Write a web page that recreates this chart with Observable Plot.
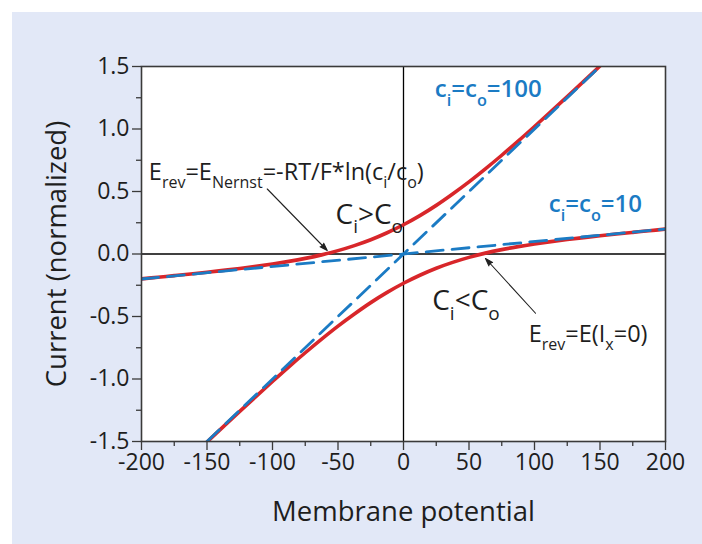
<!DOCTYPE html>
<html>
<head>
<meta charset="utf-8">
<script src="https://cdn.jsdelivr.net/npm/d3@7"></script>
<script src="https://cdn.jsdelivr.net/npm/@observablehq/plot@0.6"></script>
<style>
  html, body { margin: 0; padding: 0; background: #ffffff; }
  #bg { position: absolute; left: 12px; top: 12px; width: 690px; height: 532px; background: #e2e8f7; }
  #chart { position: absolute; left: 0; top: 0; }
</style>
</head>
<body>
<div id="bg"><div id="chart"></div></div>
<script>
// ---- data ----
// red curve, c_i > c_o (c_i = 100, c_o = 10)
const hiV = [-200, -187.5, -175, -162.5, -150, -137.5, -125, -112.5, -100, -87.5, -75, -62.5, -50, -37.5, -25, -12.5, 0, 12.5, 25, 37.5, 50, 62.5, 75, 87.5, 100, 112.5, 125, 137.5, 150];
const hiI = [-0.199, -0.186, -0.173, -0.160, -0.146, -0.131, -0.116, -0.099, -0.080, -0.059, -0.035, -0.007, 0.027, 0.067, 0.114, 0.170, 0.234, 0.307, 0.389, 0.480, 0.577, 0.681, 0.790, 0.903, 1.020, 1.139, 1.259, 1.381, 1.504];
// red curve, c_i < c_o (c_i = 10, c_o = 100)
const loV = [-150, -137.5, -125, -112.5, -100, -87.5, -75, -62.5, -50, -37.5, -25, -12.5, 0, 12.5, 25, 37.5, 50, 62.5, 75, 87.5, 100, 112.5, 125, 137.5, 150, 162.5, 175, 187.5, 200];
const loI = [-1.504, -1.381, -1.259, -1.139, -1.020, -0.903, -0.790, -0.681, -0.577, -0.480, -0.389, -0.307, -0.234, -0.170, -0.114, -0.067, -0.027, 0.007, 0.035, 0.059, 0.080, 0.099, 0.116, 0.131, 0.146, 0.160, 0.173, 0.186, 0.199];
// blue dashed lines, c_i = c_o
const eq100V = [-150, 150];
const eq100I = [-1.5, 1.5];
const eq10V = [-200, 200];
const eq10I = [-0.2, 0.2];

const xTicks = [-200, -150, -100, -50, 0, 50, 100, 150, 200];
const xMinor = [-175, -125, -75, -25, 25, 75, 125, 175];
const yTicks = [-1.5, -1.0, -0.5, 0.0, 0.5, 1.0, 1.5];
const yMinor = [-1.25, -0.75, -0.25, 0.25, 0.75, 1.25];

const xTitle = "Membrane potential";
const yTitle = "Current (normalized)";

const blueText = ["c_{i}=c_{o}=100", "c_{i}=c_{o}=10"];
const blueX = [23.9, 110.9];
const blueY = [1.314, 0.394];

const eqText = ["E_{rev}=E_{Nernst}=-RT/F*ln(c_{i}/c_{o})", "E_{rev}=E(I_{x}=0)"];
const eqX = [-194.4, 95.6];
const eqY = [0.65, -0.64];

const relText = ["C_{i}>C_{o}", "C_{i}<C_{o}"];
const relX = [-51.9, 21.9];
const relY = [0.315, -0.38];

const arrX1 = [-104, 100.8];
const arrY1 = [0.52, -0.474];
const arrX2 = [-58.2, 62.6];
const arrY2 = [0.028, -0.036];

// ---- build tables ----
const hi = hiV.map((v, i) => ({V: v, I: hiI[i]}));
const lo = loV.map((v, i) => ({V: v, I: loI[i]}));
const d100 = eq100V.map((v, i) => ({V: v, I: eq100I[i]}));
const d10 = eq10V.map((v, i) => ({V: v, I: eq10I[i]}));
const blue = blueText.map((t, i) => ({t, x: blueX[i], y: blueY[i]}));
const eqs = eqText.map((t, i) => ({t, x: eqX[i], y: eqY[i]}));
const rels = relText.map((t, i) => ({t, x: relX[i], y: relY[i]}));
const arrows = arrX1.map((x1, i) => ({x1, y1: arrY1[i], x2: arrX2[i], y2: arrY2[i]}));

const RED = "#d8262a";
const BLUE = "#1b7bc4";
const INK = "#1e1e1e";

const plot = Plot.plot({
  width: 690,
  height: 532,
  marginLeft: 129,
  marginRight: 37,
  marginTop: 54,
  marginBottom: 103,
  style: {background: "transparent", fontFamily: "'Open Sans', sans-serif", color: INK, overflow: "visible"},
  x: {domain: [-200, 200], label: null},
  y: {domain: [-1.5, 1.5], label: null},
  marks: [
    Plot.frame({fill: "white", stroke: "none"}),
    Plot.ruleX([0], {stroke: "black", strokeWidth: 1.3}),
    Plot.ruleY([0], {stroke: "black", strokeWidth: 1.3}),
    Plot.line(hi, {x: "V", y: "I", stroke: RED, strokeWidth: 3.6, curve: "catmull-rom", clip: true}),
    Plot.line(lo, {x: "V", y: "I", stroke: RED, strokeWidth: 3.6, curve: "catmull-rom", clip: true}),
    Plot.line(d100, {x: "V", y: "I", stroke: BLUE, strokeWidth: 2.8, strokeDasharray: "17,9", clip: true}),
    Plot.line(d10, {x: "V", y: "I", stroke: BLUE, strokeWidth: 2.8, strokeDasharray: "17,9", clip: true}),
    Plot.frame({stroke: "#3a3a3a", strokeWidth: 1.6}),
    Plot.axisX(xTicks, {tickSize: 9, tickPadding: 3, tickFormat: d => String(d), fontSize: 23, stroke: "#3a3a3a", strokeWidth: 1.3, fill: INK, label: null}),
    Plot.axisX(xMinor, {tickSize: 5, tickFormat: () => "", stroke: "#3a3a3a", strokeWidth: 1.3, label: null}),
    Plot.axisY(yTicks, {tickSize: 9, tickPadding: 3, tickFormat: d => d.toFixed(1), fontSize: 23, stroke: "#3a3a3a", strokeWidth: 1.3, fill: INK, label: null}),
    Plot.axisY(yMinor, {tickSize: 5, tickFormat: () => "", stroke: "#3a3a3a", strokeWidth: 1.3, label: null}),
    Plot.text([xTitle], {frameAnchor: "bottom", dy: 79, fontSize: 27.5, fill: INK}),
    Plot.text([yTitle], {frameAnchor: "left", dx: -84, rotate: -90, textAnchor: "middle", fontSize: 27.5, fill: INK}),
    Plot.arrow(arrows, {x1: "x1", y1: "y1", x2: "x2", y2: "y2", stroke: "#222", fill: "#222", strokeWidth: 1.1, headLength: 11, headAngle: 36}),
    Plot.text(blue, {x: "x", y: "y", text: "t", textAnchor: "start", fontSize: 24, fontWeight: 600, fill: BLUE}),
    Plot.text(eqs, {x: "x", y: "y", text: "t", textAnchor: "start", fontSize: 23.5, fill: INK}),
    Plot.text(rels, {x: "x", y: "y", text: "t", textAnchor: "start", fontSize: 28, fill: INK})
  ]
});

document.getElementById("chart").appendChild(plot);

// subscripts: turn "_{...}" into lowered, smaller tspans
const NS = "http://www.w3.org/2000/svg";
plot.querySelectorAll("text").forEach(t => {
  const s = t.textContent;
  if (!s.includes("_{")) return;
  const fs = parseFloat(getComputedStyle(t).fontSize) || 22;
  const shift = fs * 0.34;
  const parts = s.split(/(_\{[^}]*\})/);
  while (t.firstChild) t.removeChild(t.firstChild);
  let lowered = false;
  for (const p of parts) {
    if (!p) continue;
    const ts = document.createElementNS(NS, "tspan");
    if (p.startsWith("_{")) {
      ts.textContent = p.slice(2, -1);
      ts.setAttribute("font-size", (fs * 0.68).toFixed(1));
      if (!lowered) { ts.setAttribute("dy", shift.toFixed(1)); lowered = true; }
    } else {
      ts.textContent = p;
      if (lowered) { ts.setAttribute("dy", (-shift).toFixed(1)); lowered = false; }
    }
    t.appendChild(ts);
  }
});
</script>
</body>
</html>
